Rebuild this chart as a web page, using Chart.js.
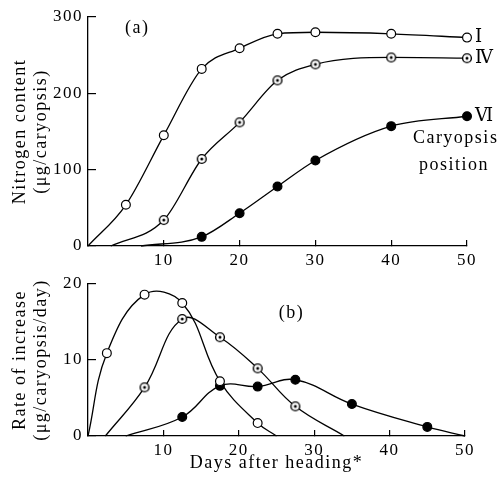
<!DOCTYPE html>
<html>
<head>
<meta charset="utf-8">
<script src="https://cdn.jsdelivr.net/npm/chart.js@4.4.1/dist/chart.umd.min.js"></script>
<style>
  body { margin: 0; background: #fff; }
  #wrap { position: relative; width: 499px; height: 483px; }
  canvas { position: absolute; left: 0; }
</style>
</head>
<body>
<div id="wrap">
  <canvas id="nitrogenChart" width="499" height="268" style="top:0"></canvas>
  <canvas id="rateChart" width="499" height="215" style="top:268px"></canvas>
</div>
<script>
const serif = '"Liberation Serif", "DejaVu Serif", serif';

// (a) nitrogen content per caryopsis, positions I, IV, VI
const nDays = [5, 10, 15, 20, 25, 30, 40, 50];
const nI = [54, 145, 232, 259, 278, 280, 278, 273];
const nIV = [null, 34, 114, 162, 217, 238, 247, 246];
const nVI = [null, null, 12, 43, 78, 112, 157, 170];
const nStart = [0, 3, 7];           // day where each fitted curve leaves zero

// (b) rate of increase
const rDays = [2.5, 7.5, 12.5, 17.5, 22.5, 27.5, 35, 45];
const rI = [10.9, 18.6, 17.5, 7.2, 1.7, null, null, null];
const rIV = [null, 6.4, 15.4, 13.0, 8.9, 3.9, null, null];
const rVI = [null, null, 2.5, 6.6, 6.5, 7.4, 4.2, 1.2];
const rStart = [0, 2.3, 5];
const rEnd = [25, 34, 50];

const positions = ['Ⅰ', 'Ⅳ', 'Ⅵ'];
const xTicks = [10, 20, 30, 40, 50];
const nTicks = [0, 100, 200, 300];
const rTicks = [0, 10, 20];

// circle with a dot in the middle
function dotCircle() {
    const c = document.createElement('canvas');
    c.width = 12; c.height = 12;
    const g = c.getContext('2d');
    g.beginPath();
    g.arc(6, 6, 4.4, 0, Math.PI * 2);
    g.fillStyle = '#fff';
    g.fill();
    g.lineWidth = 1.4;
    g.strokeStyle = '#000';
    g.stroke();
    g.beginPath();
    g.arc(6, 6, 1.5, 0, Math.PI * 2);
    g.fillStyle = '#000';
    g.fill();
    return c;
}

const marks = [
    { style: 'circle', bg: '#fff' },
    { style: dotCircle(), bg: '#fff' },
    { style: 'circle', bg: '#000' }
];

function curve(days, vals, start, end) {
    const pts = [{ x: start, y: 0, edge: true }];
    days.forEach((d, i) => {
        if (vals[i] != null) pts.push({ x: d, y: vals[i] });
    });
    if (end != null) pts.push({ x: end, y: 0, edge: true });
    return pts;
}

function series(data, i, smooth) {
    return Object.assign({
        data: data,
        borderColor: '#000',
        borderWidth: 1.3,
        fill: false,
        clip: false,
        pointStyle: marks[i].style,
        pointBackgroundColor: marks[i].bg,
        pointBorderColor: '#000',
        pointBorderWidth: 1.2,
        pointRadius: c => (c.raw && c.raw.edge) ? 0 : 4.4
    }, smooth);
}

function xAxis(height, pad, title) {
    return {
        type: 'linear', min: 0, max: 50,
        afterBuildTicks: s => { s.ticks = xTicks.map(v => ({ value: v })); },
        afterFit: s => { s.height = height; s.paddingLeft = 0; s.paddingRight = 0; },
        border: { color: '#000', width: 1.3 },
        grid: { drawOnChartArea: false, tickLength: -6, color: '#000', lineWidth: 1.2 },
        ticks: { color: '#000', font: { family: serif, size: 17 }, padding: pad, maxRotation: 0, autoSkip: false },
        title: title
    };
}

function yAxis(min, max, ticks, text) {
    return {
        type: 'linear', min: min, max: max,
        afterBuildTicks: s => { s.ticks = ticks.map(v => ({ value: v })); },
        afterFit: s => { s.width = 88; s.paddingTop = 0; s.paddingBottom = 0; },
        border: { color: '#000', width: 1.3 },
        grid: { drawOnChartArea: false, tickLength: -8, color: '#000', lineWidth: 1.2 },
        ticks: { color: '#000', font: { family: serif, size: 17 }, padding: 13 },
        title: { display: true, text: text, color: '#000', font: { family: serif, size: 18 }, padding: { top: 9 } }
    };
}

// loose spacing like the printed figure, plus the text notes
function notes(list) {
    return {
        id: 'notes',
        beforeDraw(chart) { chart.ctx.letterSpacing = '1.5px'; },
        afterDraw(chart) {
            const ctx = chart.ctx;
            const xs = chart.scales.x, ys = chart.scales.y;
            ctx.save();
            ctx.letterSpacing = '1.5px';
            ctx.fillStyle = '#000';
            ctx.textBaseline = 'middle';
            list.forEach(n => {
                ctx.font = (n.size || 18) + 'px ' + serif;
                ctx.textAlign = n.align || 'center';
                ctx.fillText(n.text, xs.getPixelForValue(n.x) + (n.dx || 0), ys.getPixelForValue(n.y));
            });
            ctx.restore();
        }
    };
}

const last = a => a[a.length - 1];
const mono = { cubicInterpolationMode: 'monotone' };
const bez = { tension: 0.4 };

new Chart(document.getElementById('nitrogenChart'), {
    type: 'line',
    data: {
        datasets: [
            series(curve(nDays, nI, nStart[0]), 0, mono),
            series(curve(nDays, nIV, nStart[1]), 1, mono),
            series(curve(nDays, nVI, nStart[2]), 2, mono)
        ]
    },
    options: {
        responsive: false,
        animation: false,
        events: [],
        layout: { padding: { left: 0, right: 32, top: 17, bottom: 0 } },
        plugins: { legend: { display: false }, tooltip: { enabled: false } },
        scales: {
            x: xAxis(22, 10, { display: false }),
            y: yAxis(0, 300, nTicks, ['Nitrogen content', '(μg/caryopsis)'])
        }
    },
    plugins: [notes([
        { text: '(a)', x: 6.5, y: 285 },
        { text: positions[0], x: 50, y: last(nI), dx: 8, align: 'left' },
        { text: positions[1], x: 50, y: last(nIV), dx: 8, align: 'left' },
        { text: positions[2], x: 50, y: last(nVI), dx: 8, align: 'left' },
        { text: 'Caryopsis', x: 48.5, y: 141 },
        { text: 'position', x: 48.3, y: 106 }
    ])]
});

new Chart(document.getElementById('rateChart'), {
    type: 'line',
    data: {
        datasets: [
            series(curve(rDays, rI, rStart[0], rEnd[0]), 0, bez),
            series(curve(rDays, rIV, rStart[1], rEnd[1]), 1, bez),
            series(curve(rDays, rVI, rStart[2], rEnd[2]), 2, bez)
        ]
    },
    options: {
        responsive: false,
        animation: false,
        events: [],
        layout: { padding: { left: 0, right: 34, top: 16, bottom: 0 } },
        plugins: { legend: { display: false }, tooltip: { enabled: false } },
        scales: {
            x: xAxis(47, 10, { display: true, text: 'Days after heading*', color: '#000', font: { family: serif, size: 18 }, padding: { top: 0, bottom: 9 } }),
            y: yAxis(0, 20, rTicks, ['Rate of increase', '(μg/caryopsis/day)'])
        }
    },
    plugins: [notes([
        { text: '(b)', x: 27, y: 16.2 }
    ])]
});
</script>
</body>
</html>
